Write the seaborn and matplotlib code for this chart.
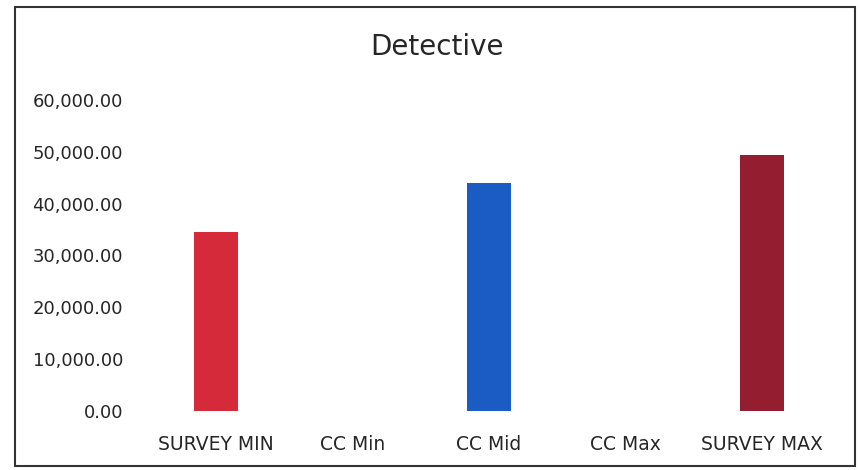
import pandas as pd
import numpy as np
import matplotlib.pyplot as plt
import matplotlib.ticker as ticker
from matplotlib.patches import Rectangle
import seaborn as sns

# Data
categories = ["SURVEY MIN", "CC Min", "CC Mid", "CC Max", "SURVEY MAX"]
values = [34600, 0, 43950, 0, 49350]
colors = ["#D42A3A", "#FFFFFF", "#1A5BC4", "#FFFFFF", "#951D30"]

df = pd.DataFrame({"category": categories, "value": values})

sns.set_style("white")
plt.rcParams['font.family'] = ['DejaVu Sans']

fig = plt.figure(figsize=(8.6, 4.7), dpi=100)
ax = fig.add_axes([148 / 860, 1 - 411 / 470, (830 - 148) / 860, (411 - 100) / 470])

sns.barplot(data=df, x="category", y="value", hue="category", palette=colors,
            width=0.32, linewidth=0, saturation=1, legend=False, ax=ax)

ax.set_ylim(0, 60000)
ax.set_yticks(np.arange(0, 60001, 10000))
ax.yaxis.set_major_formatter(ticker.FuncFormatter(lambda x, _: f'{x:,.2f}'))
ax.tick_params(axis='y', length=0, pad=18, labelsize=13, colors='#262626')
ax.tick_params(axis='x', length=0, pad=17, labelsize=13.5, colors='#262626')
ax.set_xlabel("")
ax.set_ylabel("")
for s in ax.spines.values():
    s.set_visible(False)

fig.text(0.508, 1 - 47 / 470, "Detective", ha='center', va='center', fontsize=20, color='#262626')

# chart border
fig.patches.append(Rectangle((15 / 860, 4 / 470), 840 / 860, 459 / 470, transform=fig.transFigure,
                             fill=False, edgecolor='#333333', linewidth=1.5))

plt.savefig("out.png", dpi=100)
